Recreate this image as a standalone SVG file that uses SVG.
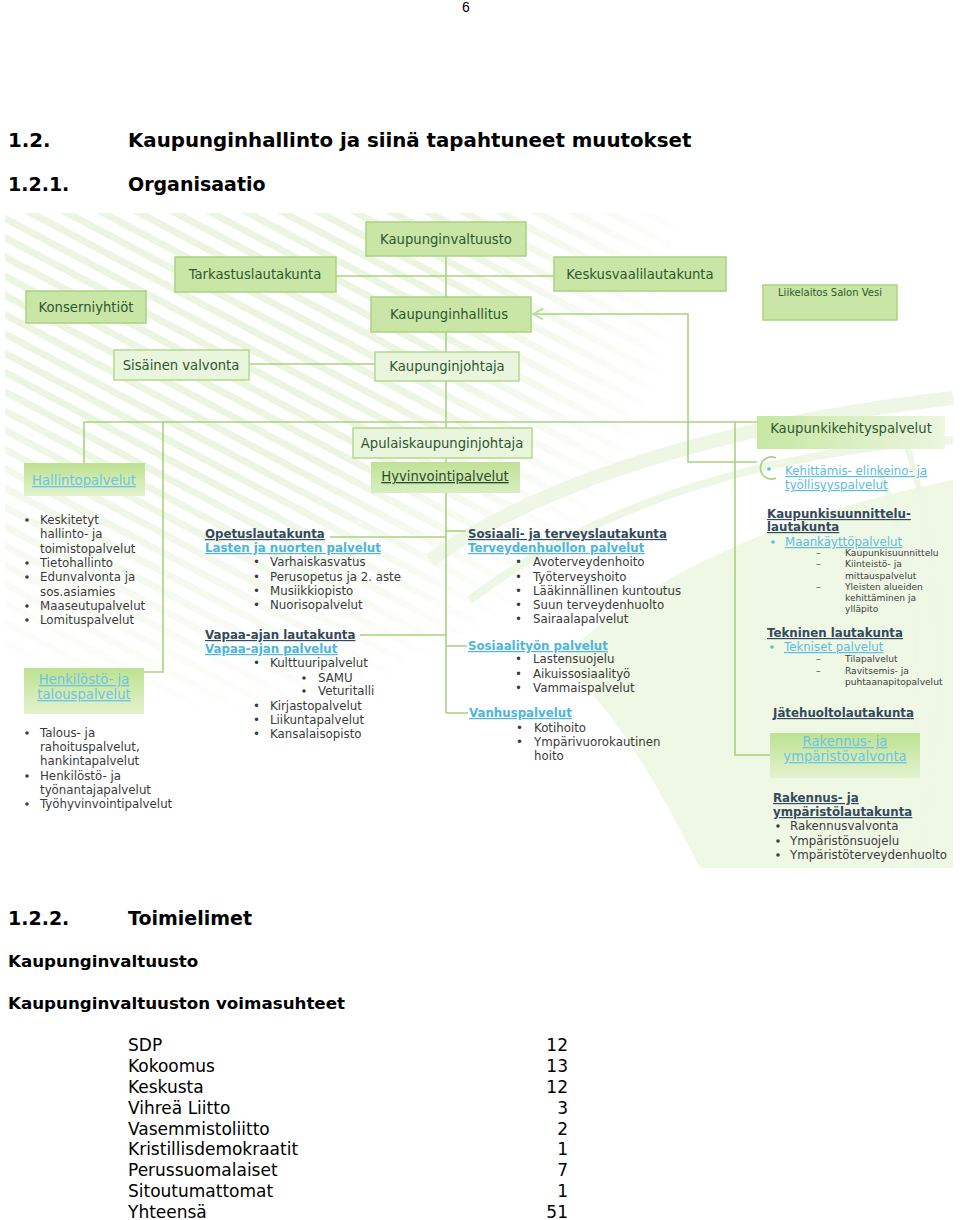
<svg xmlns="http://www.w3.org/2000/svg" width="960" height="1220" viewBox="0 0 960 1220">
<defs>
<style>
.box{fill:#c9e6a7;stroke:#a9d27f;stroke-width:1.5}
.lbox{fill:#e9f5dd;stroke:#b2d98b;stroke-width:1.5}
.bt{font-family:"DejaVu Sans",Verdana,sans-serif;font-size:13.2px;fill:#2e5630;text-anchor:middle}
.conn{stroke:#a9d27f;stroke-width:1.6;fill:none}
.t{font-family:"DejaVu Sans",Verdana,sans-serif;font-size:11.8px;fill:#3a3a3a}
.sm{font-family:"DejaVu Sans",Verdana,sans-serif;font-size:9.1px;fill:#3d3d3d}
.hd{font-weight:bold;fill:#34495e;text-decoration:underline}
.lk{font-weight:bold;fill:#4db5de;text-decoration:underline}
.lkn{fill:#5bbde0;text-decoration:underline}
.bul{fill:#3d3d3d}
.doc{font-family:"DejaVu Sans",Verdana,sans-serif;fill:#000}
.bg{fill:none;stroke:#eef6e5}
</style>
<pattern id="diag" patternUnits="userSpaceOnUse" width="17" height="17" patternTransform="rotate(28)">
<rect x="0" y="0" width="17" height="7" fill="#ecf5e2"/>
</pattern>
<radialGradient id="fade" gradientUnits="userSpaceOnUse" cx="220" cy="250" r="470">
<stop offset="0" stop-color="#fff"/>
<stop offset="0.5" stop-color="#fff"/>
<stop offset="1" stop-color="#000"/>
</radialGradient>
<mask id="fadeMask" maskUnits="userSpaceOnUse" x="5" y="213" width="948" height="655">
<rect x="5" y="213" width="948" height="655" fill="url(#fade)"/>
</mask>
<linearGradient id="gBox" x1="0" y1="0" x2="0" y2="1">
<stop offset="0" stop-color="#bde290"/>
<stop offset="1" stop-color="#e3f2cf"/>
</linearGradient>
<linearGradient id="gHyv" x1="0" y1="0" x2="0" y2="1">
<stop offset="0" stop-color="#bfe297"/>
<stop offset="1" stop-color="#d9eec1"/>
</linearGradient>
<linearGradient id="gKeh" x1="0" y1="0" x2="1" y2="0">
<stop offset="0" stop-color="#c6e7a2"/>
<stop offset="1" stop-color="#ecf6e0"/>
</linearGradient>
<marker id="open" markerWidth="14" markerHeight="14" refX="11" refY="6" orient="auto" markerUnits="userSpaceOnUse">
<path d="M1,0.5 L11,6 L1,11.5" fill="none" stroke="#b9dc97" stroke-width="1.6"/>
</marker>
</defs>

<rect width="960" height="1220" fill="#ffffff"/>

<!-- page header -->
<text x="466" y="12" text-anchor="middle" font-family="Liberation Sans, Arial, sans-serif" font-size="14">6</text>
<text class="doc" x="8" y="147" font-size="19.8" font-weight="bold">1.2.</text>
<text class="doc" x="128" y="147" font-size="19.8" font-weight="bold">Kaupunginhallinto ja siinä tapahtuneet muutokset</text>
<text class="doc" x="8" y="191" font-size="19" font-weight="bold">1.2.1.</text>
<text class="doc" x="128" y="191" font-size="19" font-weight="bold">Organisaatio</text>

<!-- background of the chart -->
<g id="background">
<rect x="5" y="213" width="948" height="655" fill="url(#diag)" mask="url(#fadeMask)"/>
<path d="M560,660 C650,570 800,510 953,480 L953,868 L700,868 C660,790 620,715 560,660 Z" fill="#eff7e5"/>
<path class="bg" d="M430,560 C560,470 760,420 953,398" stroke-width="14"/>
<path class="bg" d="M470,600 C600,500 780,450 953,440" stroke-width="8"/>
<path class="bg" d="M905,440 C945,560 950,720 915,868" stroke-width="6"/>
<path class="bg" d="M880,470 C925,590 930,740 890,868" stroke-width="5"/>
</g>

<!-- connectors -->
<g id="connectors">
<path class="conn" d="M446,256 V297"/>
<path class="conn" d="M336,276 H554"/>
<path class="conn" d="M446,332 V352"/>
<path class="conn" d="M249,364 H375"/>
<path class="conn" d="M446,381 V428"/>
<path class="conn" d="M446,458 V462"/>
<path class="conn" d="M446,493 V713"/>
<path class="conn" d="M84,463 V422 H757"/>
<path class="conn" d="M163,422 V672 H144"/>
<path class="conn" d="M735,422 V755 H770"/>
<path class="conn" d="M757,462 H688 V314 H533" marker-end="url(#open)"/>
<path class="conn" d="M776,458 A11,11 0 1 0 776,478"/>
<path class="conn" d="M330,537 H446"/>
<path class="conn" d="M446,531 H466"/>
<path class="conn" d="M360,635 H446"/>
<path class="conn" d="M446,646 H467"/>
<path class="conn" d="M446,713 H468"/>
</g>

<!-- nodes -->
<g id="n-valtuusto"><rect class="box" x="366" y="222" width="160" height="34"/><text class="bt" x="446" y="244">Kaupunginvaltuusto</text></g>
<g id="n-tarkastus"><rect class="box" x="175" y="257" width="161" height="35"/><text class="bt" x="255" y="279">Tarkastuslautakunta</text></g>
<g id="n-keskusvaali"><rect class="box" x="554" y="257" width="172" height="34"/><text class="bt" x="640" y="279">Keskusvaalilautakunta</text></g>
<g id="n-konserni"><rect class="box" x="26" y="291" width="120" height="32"/><text class="bt" x="86" y="312">Konserniyhtiöt</text></g>
<g id="n-liikelaitos"><rect class="box" x="763" y="285" width="134" height="35"/><text class="bt" x="830" y="296" style="font-size:10px">Liikelaitos Salon Vesi</text></g>
<g id="n-hallitus"><rect class="box" x="371" y="297" width="160" height="35"/><text class="bt" x="449" y="319">Kaupunginhallitus</text></g>
<g id="n-sisainen"><rect class="lbox" x="114" y="350" width="135" height="30"/><text class="bt" x="181" y="370">Sisäinen valvonta</text></g>
<g id="n-johtaja"><rect class="lbox" x="375" y="352" width="144" height="29"/><text class="bt" x="447" y="371">Kaupunginjohtaja</text></g>
<g id="n-apulais"><rect class="lbox" x="353" y="428" width="179" height="30"/><text class="bt" x="442" y="448">Apulaiskaupunginjohtaja</text></g>
<g id="n-hyvinvointi"><rect x="371" y="462" width="149" height="31" fill="url(#gHyv)"/><text class="bt" x="445" y="481" style="text-decoration:underline;fill:#2b4a2d">Hyvinvointipalvelut</text></g>
<g id="n-hallinto"><rect x="24" y="463" width="121" height="33" fill="url(#gBox)"/><text class="bt" x="84" y="485" style="fill:#6cc3e2;text-decoration:underline">Hallintopalvelut</text></g>
<g id="n-kehitys"><rect x="757" y="416" width="188" height="33" fill="url(#gKeh)"/><text class="bt" x="851" y="433">Kaupunkikehityspalvelut</text></g>
<g id="n-henkilosto"><rect x="24" y="668" width="120" height="46" fill="url(#gBox)"/><text class="bt" x="84" y="684" style="fill:#6cc3e2;text-decoration:underline">Henkilöstö- ja</text><text class="bt" x="84" y="699" style="fill:#6cc3e2;text-decoration:underline">talouspalvelut</text></g>
<g id="n-rakvalvonta"><rect x="770" y="733" width="150" height="45" fill="url(#gBox)"/><text class="bt" x="845" y="746" style="fill:#6cc3e2;text-decoration:underline">Rakennus- ja</text><text class="bt" x="845" y="761" style="fill:#6cc3e2;text-decoration:underline">ympäristövalvonta</text></g>

<!-- Hallintopalvelut list -->
<g id="l-hallinto" class="t">
<circle class="bul" cx="27" cy="520" r="1.8"/><text x="40" y="524">Keskitetyt</text>
<text x="40" y="538">hallinto- ja</text>
<text x="40" y="553">toimistopalvelut</text>
<circle class="bul" cx="27" cy="563" r="1.8"/><text x="40" y="567">Tietohallinto</text>
<circle class="bul" cx="27" cy="577" r="1.8"/><text x="40" y="581">Edunvalvonta ja</text>
<text x="40" y="596">sos.asiamies</text>
<circle class="bul" cx="27" cy="606" r="1.8"/><text x="40" y="610">Maaseutupalvelut</text>
<circle class="bul" cx="27" cy="620" r="1.8"/><text x="40" y="624">Lomituspalvelut</text>
</g>

<!-- Henkilöstö list -->
<g id="l-henkilosto" class="t">
<circle class="bul" cx="27" cy="733" r="1.8"/><text x="40" y="737">Talous- ja</text>
<text x="40" y="751">rahoituspalvelut,</text>
<text x="40" y="765">hankintapalvelut</text>
<circle class="bul" cx="27" cy="776" r="1.8"/><text x="40" y="780">Henkilöstö- ja</text>
<text x="40" y="794">työnantajapalvelut</text>
<circle class="bul" cx="27" cy="804" r="1.8"/><text x="40" y="808">Työhyvinvointipalvelut</text>
</g>

<!-- Opetuslautakunta -->
<g id="l-opetus" class="t">
<text class="hd" x="205" y="538">Opetuslautakunta</text>
<text class="lk" x="205" y="552">Lasten ja nuorten palvelut</text>
<text x="253" y="566">•</text><text x="270" y="566">Varhaiskasvatus</text>
<text x="253" y="581">•</text><text x="270" y="581">Perusopetus ja 2. aste</text>
<text x="253" y="595">•</text><text x="270" y="595">Musiikkiopisto</text>
<text x="253" y="609">•</text><text x="270" y="609">Nuorisopalvelut</text>
</g>

<!-- Vapaa-ajan lautakunta -->
<g id="l-vapaa" class="t">
<text class="hd" x="205" y="639">Vapaa-ajan lautakunta</text>
<text class="lk" x="205" y="653">Vapaa-ajan palvelut</text>
<text x="253" y="667">•</text><text x="270" y="667">Kulttuuripalvelut</text>
<circle class="bul" cx="304" cy="678" r="1.8"/><text x="318" y="682">SAMU</text>
<circle class="bul" cx="304" cy="691" r="1.8"/><text x="318" y="695">Veturitalli</text>
<text x="253" y="710">•</text><text x="270" y="710">Kirjastopalvelut</text>
<text x="253" y="724">•</text><text x="270" y="724">Liikuntapalvelut</text>
<text x="253" y="738">•</text><text x="270" y="738">Kansalaisopisto</text>
</g>

<!-- Sosiaali- ja terveyslautakunta -->
<g id="l-sosiaali" class="t">
<text class="hd" x="468" y="538">Sosiaali- ja terveyslautakunta</text>
<text class="lk" x="468" y="552">Terveydenhuollon palvelut</text>
<text x="515" y="566">•</text><text x="533" y="566">Avoterveydenhoito</text>
<text x="515" y="581">•</text><text x="533" y="581">Työterveyshoito</text>
<text x="515" y="595">•</text><text x="533" y="595">Lääkinnällinen kuntoutus</text>
<text x="515" y="609">•</text><text x="533" y="609">Suun terveydenhuolto</text>
<text x="515" y="623">•</text><text x="533" y="623">Sairaalapalvelut</text>
<text class="lk" x="468" y="650">Sosiaalityön palvelut</text>
<text x="515" y="663">•</text><text x="533" y="663">Lastensuojelu</text>
<text x="515" y="678">•</text><text x="533" y="678">Aikuissosiaalityö</text>
<text x="515" y="692">•</text><text x="533" y="692">Vammaispalvelut</text>
<text class="lk" x="469" y="717">Vanhuspalvelut</text>
<text x="516" y="732">•</text><text x="534" y="732">Kotihoito</text>
<text x="516" y="746">•</text><text x="534" y="746">Ympärivuorokautinen</text>
<text x="534" y="760">hoito</text>
</g>

<!-- Kaupunkikehitys column -->
<g id="l-kehitys" class="t">
<circle cx="769" cy="469" r="1.8" fill="#5bbde0"/>
<text class="lkn" x="785" y="475">Kehittämis- elinkeino- ja</text>
<text class="lkn" x="785" y="489">työllisyyspalvelut</text>
<text class="hd" x="767" y="518" style="font-size:11.8px">Kaupunkisuunnittelu-</text>
<text class="hd" x="767" y="531" style="font-size:11.8px">lautakunta</text>
<circle cx="773" cy="542" r="1.8" fill="#5bbde0"/>
<text class="lkn" x="785" y="546">Maankäyttöpalvelut</text>
<text class="sm" x="816" y="556">–</text><text class="sm" x="845" y="556">Kaupunkisuunnittelu</text>
<text class="sm" x="816" y="567">–</text><text class="sm" x="845" y="567">Kiinteistö- ja</text>
<text class="sm" x="845" y="579">mittauspalvelut</text>
<text class="sm" x="816" y="590">–</text><text class="sm" x="845" y="590">Yleisten alueiden</text>
<text class="sm" x="845" y="601">kehittäminen ja</text>
<text class="sm" x="845" y="612">ylläpito</text>
<text class="hd" x="767" y="637" style="font-size:11.8px">Tekninen lautakunta</text>
<circle cx="772" cy="647" r="1.8" fill="#5bbde0"/>
<text class="lkn" x="784" y="651">Tekniset palvelut</text>
<text class="sm" x="816" y="662">–</text><text class="sm" x="845" y="662">Tilapalvelut</text>
<text class="sm" x="816" y="674">–</text><text class="sm" x="845" y="674">Ravitsemis- ja</text>
<text class="sm" x="845" y="685">puhtaanapitopalvelut</text>
<text class="hd" x="773" y="717" style="font-size:11.8px">Jätehuoltolautakunta</text>
<text class="hd" x="773" y="802" style="font-size:11.8px">Rakennus- ja</text>
<text class="hd" x="773" y="816" style="font-size:11.8px">ympäristölautakunta</text>
<circle class="bul" cx="778" cy="826" r="1.8"/><text x="790" y="830">Rakennusvalvonta</text>
<circle class="bul" cx="778" cy="841" r="1.8"/><text x="790" y="845">Ympäristönsuojelu</text>
<circle class="bul" cx="778" cy="855" r="1.8"/><text x="790" y="859">Ympäristöterveydenhuolto</text>
</g>

<!-- section 1.2.2 -->
<text class="doc" x="8" y="925" font-size="19" font-weight="bold">1.2.2.</text>
<text class="doc" x="128" y="925" font-size="19" font-weight="bold">Toimielimet</text>
<text class="doc" x="8" y="967" font-size="16.7" font-weight="bold">Kaupunginvaltuusto</text>
<text class="doc" x="8" y="1009" font-size="16.7" font-weight="bold">Kaupunginvaltuuston voimasuhteet</text>

<g id="table" class="doc" font-size="17">
<text x="128" y="1051">SDP</text><text x="568" y="1051" text-anchor="end">12</text>
<text x="128" y="1072">Kokoomus</text><text x="568" y="1072" text-anchor="end">13</text>
<text x="128" y="1093">Keskusta</text><text x="568" y="1093" text-anchor="end">12</text>
<text x="128" y="1114">Vihreä Liitto</text><text x="568" y="1114" text-anchor="end">3</text>
<text x="128" y="1135">Vasemmistoliitto</text><text x="568" y="1135" text-anchor="end">2</text>
<text x="128" y="1155">Kristillisdemokraatit</text><text x="568" y="1155" text-anchor="end">1</text>
<text x="128" y="1176">Perussuomalaiset</text><text x="568" y="1176" text-anchor="end">7</text>
<text x="128" y="1197">Sitoutumattomat</text><text x="568" y="1197" text-anchor="end">1</text>
<text x="128" y="1218">Yhteensä</text><text x="568" y="1218" text-anchor="end">51</text>
</g>
</svg>
